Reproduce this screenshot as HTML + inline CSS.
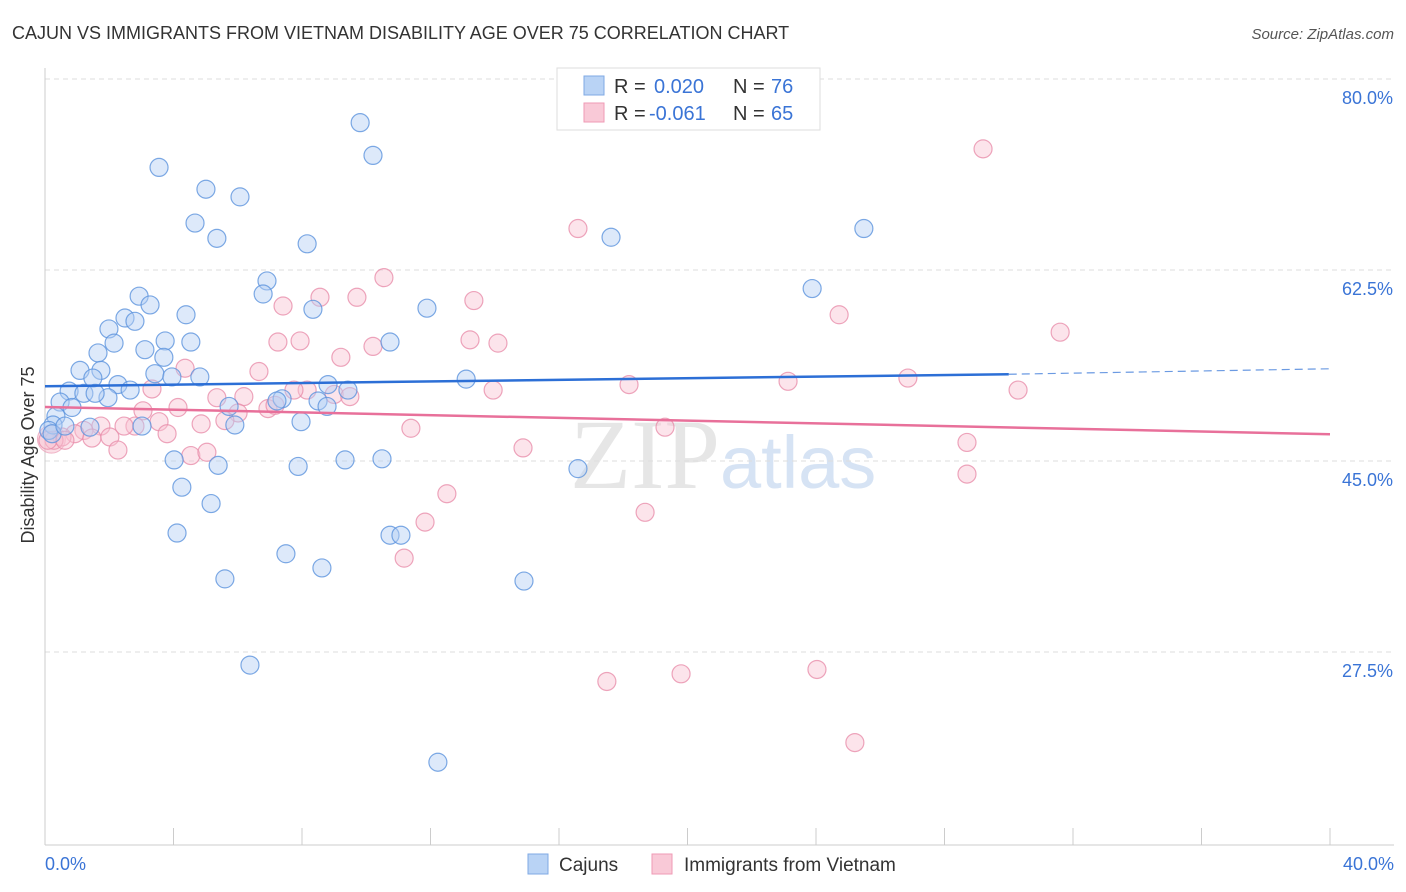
<!DOCTYPE html>
<html><head><meta charset="utf-8"><style>
body{margin:0;background:#fff;font-family:"Liberation Sans",sans-serif;}
svg{display:block}
</style></head><body>
<svg id="chart" width="1406" height="892">
<text x="12" y="39" font-size="18" fill="#333">CAJUN VS IMMIGRANTS FROM VIETNAM DISABILITY AGE OVER 75 CORRELATION CHART</text>
<text x="1394" y="39" font-size="15" fill="#555" font-style="italic" text-anchor="end">Source: ZipAtlas.com</text>
<text x="720" y="488" font-size="100" fill="#e6e6e6" text-anchor="end" font-family="Liberation Serif,serif">ZIP</text>
<text x="720" y="488" font-size="74" fill="#d6e3f4">atlas</text>
<g id="grid"></g><g id="axes"></g><g id="pts"></g><g id="trend"></g>
<text transform="translate(34,455) rotate(-90)" font-size="18" fill="#333" text-anchor="middle">Disability Age Over 75</text>
<text x="45" y="870" font-size="18" fill="#3a74d6">0.0%</text>
<text x="1394" y="870" font-size="18" fill="#3a74d6" text-anchor="end">40.0%</text>
<g>
<rect x="557" y="68" width="263" height="62" fill="#fff" stroke="#ddd"/>
<rect x="584" y="76" width="20" height="19" fill="#b9d3f5" stroke="#7fa9e4"/>
<rect x="584" y="103" width="20" height="19" fill="#f9c9d7" stroke="#ef9ab4"/>
<text x="614" y="93" font-size="20" fill="#333">R = </text><text x="654" y="93" font-size="20" fill="#3a74d6">0.020</text>
<text x="733" y="93" font-size="20" fill="#333">N = </text><text x="771" y="93" font-size="20" fill="#3a74d6">76</text>
<text x="614" y="120" font-size="20" fill="#333">R = </text><text x="649" y="120" font-size="20" fill="#3a74d6">-0.061</text>
<text x="733" y="120" font-size="20" fill="#333">N = </text><text x="771" y="120" font-size="20" fill="#3a74d6">65</text>
</g>
<g>
<rect x="528" y="854" width="20" height="20" fill="#b9d3f5" stroke="#7fa9e4"/>
<text x="559" y="871" font-size="19" fill="#333">Cajuns</text>
<rect x="652" y="854" width="20" height="20" fill="#f9c9d7" stroke="#ef9ab4"/>
<text x="684" y="871" font-size="19" fill="#333">Immigrants from Vietnam</text>
</g>
</svg>
<script>
const yTicks=[80,62.5,45,27.5];
const yTickLabels=["80.0%","62.5%","45.0%","27.5%"];
const xTicks=[0,4,8,12,16,20,24,28,32,36,40];
const blueX=[3.55,5.01,6.07,4.67,5.35,9.81,10.21,8.16,6.91,6.79,8.34,11.89,2.93,3.27,4.39,2.49,2.80,1.99,2.15,3.74,4.54,3.11,1.65,3.70,3.42,3.95,4.82,1.74,1.09,1.49,2.27,2.65,0.75,1.21,1.96,0.47,0.84,0.34,0.25,0.12,1.40,3.02,5.73,5.91,7.38,7.22,8.50,8.81,9.43,8.78,7.97,10.74,13.11,4.02,5.39,7.88,9.34,10.49,4.26,5.17,4.11,10.74,11.08,7.50,8.62,5.60,14.91,6.38,12.23,16.59,17.62,25.49,23.88,1.56,0.22,0.62];
const blueY=[71.9,69.9,69.2,66.8,65.4,76.0,73.0,64.9,61.5,60.3,58.9,59.0,60.1,59.3,58.4,58.1,57.8,57.1,55.8,56.0,55.9,55.2,54.9,54.5,53.0,52.7,52.7,53.3,53.3,52.6,52.0,51.5,51.4,51.2,50.8,50.4,49.9,49.1,48.3,47.8,48.1,48.2,50.0,48.3,50.7,50.5,50.5,52.0,51.5,50.0,48.6,55.9,52.5,45.1,44.6,44.5,45.1,45.2,42.6,41.1,38.4,38.2,38.2,36.5,35.2,34.2,34.0,26.3,17.4,44.3,65.5,66.3,60.8,51.2,47.5,48.2];
const pinkX=[29.20,16.59,10.55,8.56,9.71,13.35,7.41,24.72,31.60,7.25,7.94,13.23,14.10,10.21,9.21,4.36,6.66,3.33,8.16,7.75,9.00,9.49,6.19,5.35,13.95,18.18,23.13,26.86,30.29,4.14,3.05,6.94,6.01,7.16,3.55,4.86,5.60,2.80,2.46,1.74,11.39,1.21,0.93,0.53,2.02,3.80,1.46,19.30,0.28,2.27,4.54,5.04,14.88,28.70,28.70,12.51,11.83,18.68,11.18,17.49,19.80,24.03,25.21,0.09,0.62];
const pinkY=[73.6,66.3,61.8,60.0,60.0,59.7,59.2,58.4,56.8,55.9,56.0,56.1,55.8,55.5,54.5,53.5,53.2,51.6,51.5,51.5,51.1,50.9,50.9,50.8,51.5,52.0,52.3,52.6,51.5,49.9,49.6,49.8,49.4,50.1,48.6,48.4,48.7,48.2,48.2,48.2,48.0,47.8,47.5,47.2,47.2,47.5,47.1,48.1,46.9,46.0,45.5,45.8,46.2,46.7,43.8,42.0,39.4,40.3,36.1,24.8,25.5,25.9,19.2,46.9,46.9];
const blueTrendX=[0,30,40];
const blueTrendY=[51.85,52.95,53.45];
const pinkTrendX=[0,40];
const pinkTrendY=[49.95,47.45];

const X0=45,X1=1330,Y80=79,PX_PER=191/17.5,YB=845;
const sx=v=>X0+(X1-X0)*v/40;
const sy=v=>Y80+(80-v)*PX_PER;
const NS="http://www.w3.org/2000/svg";
function mk(tag,attrs,parent){const e=document.createElementNS(NS,tag);for(const k in attrs)e.setAttribute(k,attrs[k]);parent.appendChild(e);return e;}
const grid=document.getElementById('grid'),axes=document.getElementById('axes'),pts=document.getElementById('pts'),trend=document.getElementById('trend');
yTicks.forEach((t,i)=>{
 const l=mk('line',{x1:X0,x2:1394,y1:sy(t),y2:sy(t),stroke:'#ddd','stroke-dasharray':'5,4'},grid);
 
 
 const tx=mk('text',{x:1393,y:sy(t)+25,'font-size':18,fill:'#3a74d6','text-anchor':'end'},grid);
 tx.textContent=yTickLabels[i];
 
 
});
const ax=mk('line',{x1:X0,x2:1394,y1:YB,y2:YB,stroke:'#ccc'},axes);


const ay=mk('line',{x1:X0,x2:X0,y1:68,y2:YB,stroke:'#ccc'},axes);


xTicks.forEach(t=>{
 const l=mk('line',{x1:sx(t),x2:sx(t),y1:828,y2:YB,stroke:'#ccc'},axes);
 
 
});
function dots(xs,ys,fill,stroke,name){
 xs.forEach((x,i)=>{
  const c=mk('circle',{cx:sx(x),cy:sy(ys[i]),r:9,fill:fill,'fill-opacity':0.45,stroke:stroke,'stroke-width':1.2,'stroke-opacity':0.8},pts);
  
  
 });
}
const big=mk('circle',{cx:sx(0.2),cy:sy(47.0),r:14,fill:'#f4b6c8','fill-opacity':0.45,stroke:'#e88aa8','stroke-opacity':0.6},pts);


dots(pinkX,pinkY,'#f8c3d3','#e98fab','vietnam-point');
dots(blueX,blueY,'#b4cff3','#5c93dd','cajun-point');
const bt=mk('line',{x1:sx(blueTrendX[0]),y1:sy(blueTrendY[0]),x2:sx(blueTrendX[1]),y2:sy(blueTrendY[1]),stroke:'#2c6fd6','stroke-width':2.5},trend);


const bd=mk('line',{x1:sx(blueTrendX[1]),y1:sy(blueTrendY[1]),x2:sx(blueTrendX[2]),y2:sy(blueTrendY[2]),stroke:'#2c6fd6','stroke-width':1.2,'stroke-dasharray':'8,5','stroke-opacity':0.7},trend);


const pt=mk('line',{x1:sx(pinkTrendX[0]),y1:sy(pinkTrendY[0]),x2:sx(pinkTrendX[1]),y2:sy(pinkTrendY[1]),stroke:'#e8709a','stroke-width':2.5},trend);


</script>
</body></html>
